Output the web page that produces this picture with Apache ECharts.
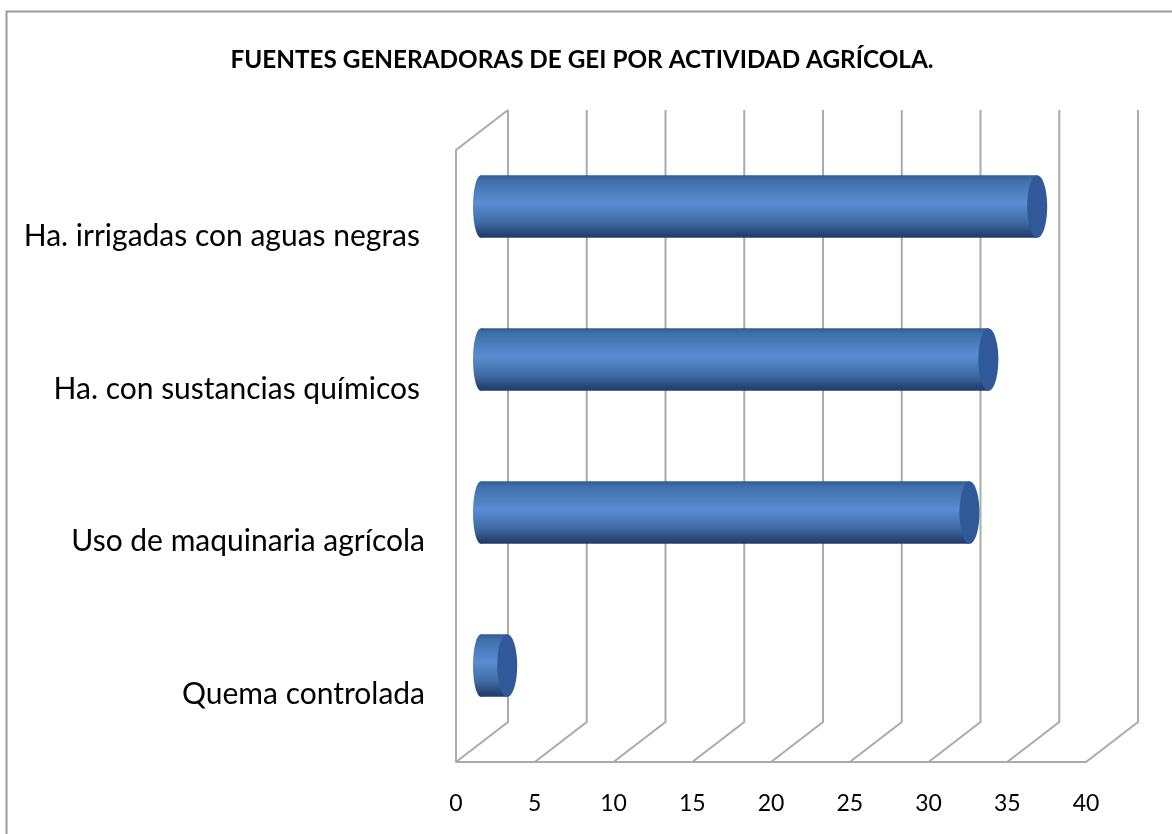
<!DOCTYPE html>
<html>
<head>
<meta charset="utf-8">
<style>
  html, body { margin: 0; padding: 0; background: #fff; }
  #chart { width: 1172px; height: 834px; }
</style>
<script src="https://cdn.jsdelivr.net/npm/echarts@6/dist/echarts.min.js"></script>
</head>
<body>
<div id="chart"></div>
<script>
const categories = ["Quema controlada", "Uso de maquinaria agrícola", "Ha. con sustancias químicos", "Ha. irrigadas con aguas negras"];
const values = [1.6, 30.95, 32.15, 35.25];
const xTicks = [0, 5, 10, 15, 20, 25, 30, 35, 40];
const titleText = "FUENTES GENERADORAS DE GEI POR ACTIVIDAD AGRÍCOLA.";

// fake 3d depth of the chart box
const depthX = 52;
const depthY = 40;
const lineColor = "#ababab";
const fontName = "Lato";

const chartInstance = echarts.init(document.getElementById("chart"));

function renderWall(params, api) {
  const v = api.value(0);
  const sys = params.coordSys;
  const x = api.coord([v, 0])[0];
  const bottom = sys.y + sys.height;
  const lineStyle = { stroke: lineColor, lineWidth: 2, fill: null };
  const points = [[x, bottom], [x + depthX, bottom - depthY], [x + depthX, sys.y - depthY]];
  const children = [{ type: "polyline", shape: { points: points }, style: lineStyle }];
  if (v === 0) {
    children.push({
      type: "polyline",
      shape: { points: [[x, bottom], [x, sys.y], [x + depthX, sys.y - depthY]] },
      style: lineStyle,
    });
  }
  return { type: "group", children: children };
}

function renderBar(params, api) {
  const start = api.coord([0, api.value(1)]);
  const end = api.coord([api.value(0), api.value(1)]);
  const h = api.size([0, 1])[1] * 0.41;
  const x0 = start[0] + depthX / 2 - 1;
  const x1 = end[0] + depthX / 2;
  const cy = start[1] - depthY / 2;
  const body = new echarts.graphic.LinearGradient(0, 0, 0, 1, [
    { offset: 0, color: "#2f5b8e" },
    { offset: 0.08, color: "#3f6fa9" },
    { offset: 0.45, color: "#5b8cd2" },
    { offset: 0.75, color: "#3f6ca4" },
    { offset: 0.95, color: "#24416f" },
    { offset: 1, color: "#223c68" },
  ]);
  return {
    type: "group",
    children: [
      { type: "ellipse", shape: { cx: x0, cy: cy, rx: 8, ry: h / 2 }, style: { fill: body } },
      { type: "rect", shape: { x: x0, y: cy - h / 2, width: x1 - x0, height: h }, style: { fill: body } },
      { type: "ellipse", shape: { cx: x1, cy: cy, rx: 10, ry: h / 2 }, style: { fill: "#30599a" } },
    ],
  };
}

const labelBase = { fontFamily: fontName, fontSize: 30, color: "#000" };

chartInstance.setOption({
  animation: false,
  backgroundColor: "#fff",
  title: {
    text: titleText,
    left: 577,
    top: 43,
    textAlign: "center",
    textStyle: { fontFamily: fontName, fontSize: 24.3, fontWeight: "bold", color: "#000" },
  },
  graphic: [
    {
      // only the top and left of the frame fall inside the picture
      type: "rect",
      shape: { x: 6.5, y: 11.5, width: 1180, height: 840 },
      style: { fill: null, stroke: "#9a9a9a", lineWidth: 2 },
    },
  ],
  grid: { left: 456, right: 86, top: 150, bottom: 72 },
  xAxis: {
    type: "value",
    min: 0,
    max: 40,
    interval: 5,
    axisLine: { show: true, lineStyle: { color: lineColor, width: 2 } },
    axisTick: { show: false },
    splitLine: { show: false },
    axisLabel: { margin: 30, fontFamily: fontName, fontSize: 23, color: "#000" },
  },
  yAxis: {
    type: "category",
    data: categories,
    axisLine: { show: false },
    axisTick: { show: false },
    axisLabel: {
      margin: 31,
      fontFamily: fontName,
      fontSize: 30,
      color: "#000",
      formatter: (name) => "{" + (name.startsWith("Ha.") ? "ha" : "low") + "|" + name + "}",
      rich: {
        ha: Object.assign({ padding: [20, 5, 0, 0] }, labelBase),
        low: Object.assign({ padding: [18, 0, 0, 0] }, labelBase),
      },
    },
  },
  series: [
    {
      type: "custom",
      renderItem: renderWall,
      clip: false,
      silent: true,
      z: 1,
      data: xTicks.map((t) => [t]),
      encode: { x: 0 },
    },
    {
      type: "custom",
      renderItem: renderBar,
      clip: false,
      z: 2,
      data: values.map((v, i) => [v, i]),
      encode: { x: 0, y: 1 },
    },
  ],
});

window.addEventListener("resize", () => chartInstance.resize());
</script>
</body>
</html>
